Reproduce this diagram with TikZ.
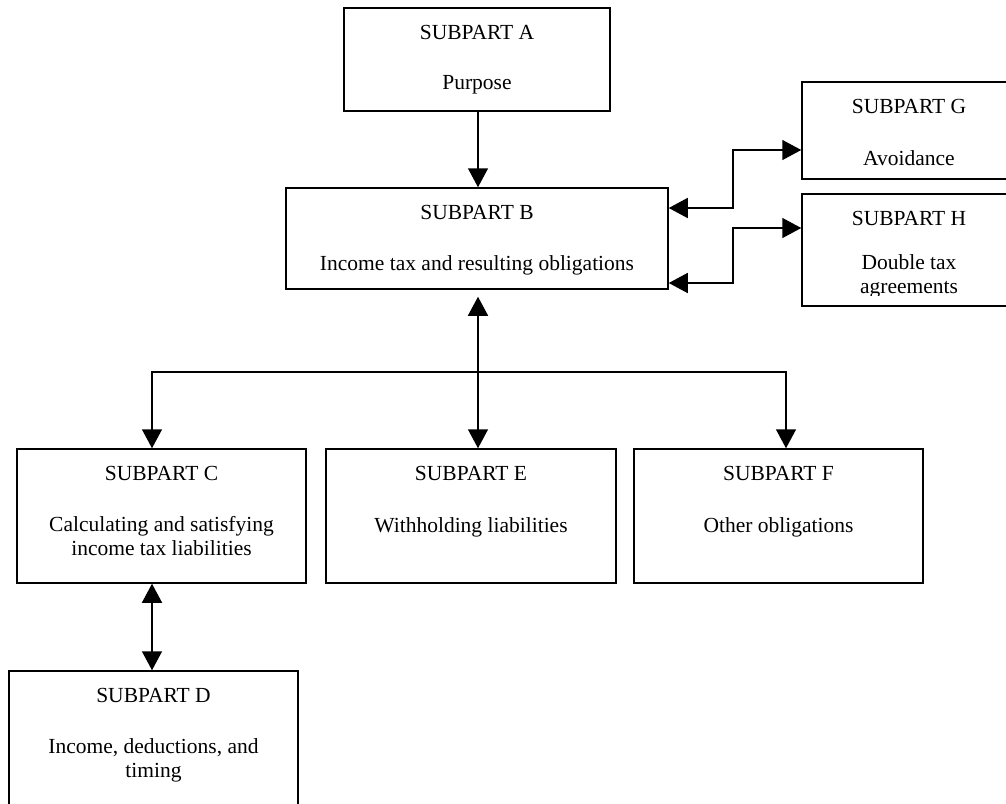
\documentclass[tikz,border=0pt]{standalone}
\usepackage{fontspec}
\setmainfont{Liberation Serif}
\usetikzlibrary{arrows.meta}
\begin{document}
\begin{tikzpicture}[x=1pt,y=-1pt,
  box/.style={draw, line width=1.5pt, inner sep=0pt},
  txt/.style={inner sep=0pt, anchor=base, align=center, font=\fontsize{21.5}{24}\selectfont},
  conn/.style={line width=1.5pt, {Triangle[length=19pt,width=20pt]}-{Triangle[length=19pt,width=20pt]}},
  oneway/.style={line width=1.5pt, -{Triangle[length=19pt,width=20pt]}}]
\useasboundingbox (0,0) rectangle (1006,803);
% boxes
\node[box, minimum width=266pt, minimum height=103pt] (a) at (477,59.5) {};
\node[box, minimum width=382pt, minimum height=101pt] (b) at (477,238.5) {};
\node[box, minimum width=214pt, minimum height=97pt] (g) at (909,130.5) {};
\node[box, minimum width=214pt, minimum height=112pt] (h) at (909,250) {};
\node[box, minimum width=289pt, minimum height=134pt] (c) at (161.5,516) {};
\node[box, minimum width=290pt, minimum height=134pt] (e) at (471,516) {};
\node[box, minimum width=289pt, minimum height=134pt] (f) at (778.5,516) {};
\node[box, minimum width=289pt, minimum height=160pt] (d) at (153.5,751) {};
% texts (base anchor = baseline of the last line)
\node[txt] (at) at (477,39) {SUBPART A};
\node[txt] (ab) at (477,89) {Purpose};
\node[txt] (bt) at (477,219) {SUBPART B};
\node[txt] (bb) at (477,270) {Income tax and resulting obligations};
\node[txt] (gt) at (909,113) {SUBPART G};
\node[txt] (gb) at (909,165) {Avoidance};
\node[txt] (ht) at (909,225) {SUBPART H};
\begin{scope}
\clip (802,194) rectangle (1016,295);
\node[txt] (hb) at (909,293) {Double tax\\agreements};
\end{scope}
\node[txt] (ct) at (161.5,480) {SUBPART C};
\node[txt] (cb) at (161.5,555) {Calculating and satisfying\\income tax liabilities};
\node[txt] (et) at (471,480) {SUBPART E};
\node[txt] (eb) at (471,532) {Withholding liabilities};
\node[txt] (ft) at (778.5,480) {SUBPART F};
\node[txt] (fb) at (778.5,532) {Other obligations};
\node[txt] (dt) at (153.5,702) {SUBPART D};
\node[txt] (db) at (153.5,777) {Income, deductions, and\\timing};
% coordinates
\coordinate (hub) at (478,372);
\coordinate (cl) at (152,372);
\coordinate (fr) at (786,372);
\coordinate (cd) at (152,600);
\coordinate (g1) at (733,208);
\coordinate (g2) at (733,150);
\coordinate (h1) at (733,283);
\coordinate (h2) at (733,228);
% connectors
\draw[oneway] (a.south -| hub) -- (b.north -| hub);
\draw[conn, shorten <=7pt] (b.south -| hub) -- (e.north -| hub);
\draw[conn] (c.north -| cl) -- (cl) -- (fr) -- (f.north -| fr);
\draw[conn] (c.south -| cd) -- (d.north -| cd);
\draw[conn] (b.east |- g1) -- (g1) -- (g2) -- (g.west |- g2);
\draw[conn] (b.east |- h1) -- (h1) -- (h2) -- (h.west |- h2);
\end{tikzpicture}
\end{document}
